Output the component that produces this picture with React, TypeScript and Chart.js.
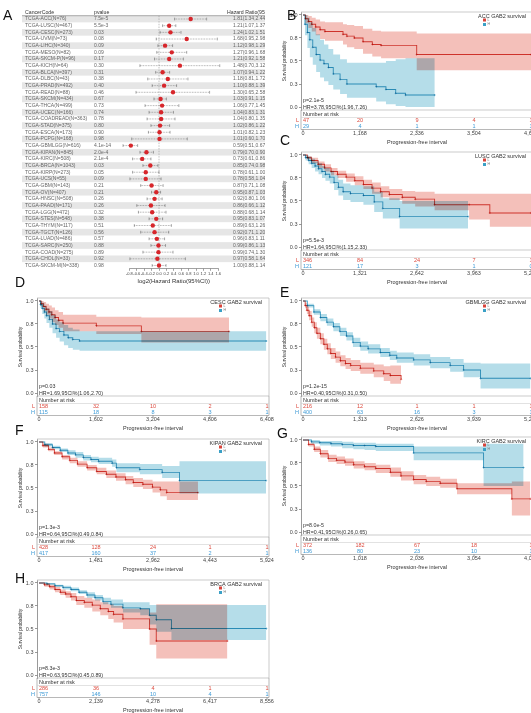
import React, { useEffect, useRef } from 'react';
import { Chart, registerables } from 'chart.js';
Chart.register(...registerables);

const FONT = '"Liberation Sans", Arial, sans-serif';
Chart.defaults.font.family = FONT;

// ---------------- Panel A (forest) data ----------------
const CANCER_CODES = ['ACC','LUSC','CESC','UVM','LIHC','MESO','SKCM-P','KICH','BLCA','DLBC','PRAD','READ','SKCM','THCA','UCEC','COADREAD','STAD','ESCA','PCPG','GBMLGG','KIPAN','KIRC','BRCA','KIRP','UCS','GBM','OV','HNSC','PAAD','LGG','STES','THYM','TGCT','LUAD','SARC','COAD','CHOL','SKCM-M'];
const CANCER_N = [76,467,273,73,340,82,96,64,397,43,492,88,434,499,166,363,375,173,168,616,845,508,1043,273,55,143,407,508,171,472,548,117,126,486,250,275,33,338];
const P_VALUES = ['7.5e-5','5.5e-3','0.03','0.08','0.09','0.09','0.17','0.30','0.31','0.38','0.40','0.46','0.67','0.73','0.74','0.78','0.80','0.90','0.98','4.1e-14','2.0e-4','2.1e-4','0.03','0.05','0.09','0.21','0.21','0.26','0.26','0.32','0.38','0.51','0.56','0.57','0.88','0.89','0.92','0.98'];
const HR = [1.81,1.21,1.24,1.68,1.12,1.27,1.21,1.48,1.07,1.18,1.10,1.30,1.03,1.06,1.04,1.04,1.02,1.01,1.01,0.59,0.79,0.73,0.85,0.78,0.78,0.87,0.95,0.92,0.86,0.88,0.95,0.89,0.92,0.96,0.99,0.99,0.97,1.00];
const HR_LOW = [1.34,1.07,1.02,0.95,0.98,0.96,0.92,0.70,0.94,0.81,0.88,0.65,0.91,0.77,0.83,0.80,0.86,0.82,0.60,0.51,0.70,0.61,0.74,0.61,0.58,0.71,0.87,0.80,0.66,0.68,0.83,0.63,0.71,0.83,0.86,0.74,0.58,0.88];
const HR_HIGH = [2.44,1.37,1.51,2.98,1.29,1.68,1.58,3.12,1.22,1.72,1.39,2.58,1.15,1.45,1.31,1.35,1.22,1.23,1.70,0.67,0.90,0.86,0.98,1.00,1.04,1.08,1.03,1.06,1.12,1.14,1.07,1.26,1.20,1.11,1.13,1.30,1.64,1.14];
const FOREST_TICKS = [-0.8,-0.6,-0.4,-0.2,0,0.2,0.4,0.6,0.8,1.0,1.2,1.4,1.6];

// ---------------- KM panels data ----------------
// B: ACC
const ACC_TICKS = [0,1168,2336,3504,4672];
const ACC_RISK_L = [47,20,9,4,1];
const ACC_RISK_H = [29,4,1,1,1];
const ACC_L_T = [0,50,110,180,260,350,450,820,900,1050,1230,1420,1600,2330,4672];
const ACC_L_S = [1.0,0.96,0.93,0.9,0.87,0.84,0.82,0.79,0.77,0.75,0.71,0.68,0.67,0.57,0.57];
const ACC_L_HI = [1.0,1.0,0.99,0.97,0.95,0.93,0.92,0.9,0.89,0.88,0.85,0.83,0.82,0.8,0.8];
const ACC_L_LO = [1.0,0.91,0.86,0.82,0.78,0.74,0.72,0.68,0.65,0.63,0.58,0.55,0.53,0.4,0.4];
const ACC_H_T = [0,40,90,140,200,270,350,430,520,620,760,900,1500,1700,1900,2100,2700];
const ACC_H_S = [1.0,0.9,0.81,0.73,0.65,0.57,0.51,0.47,0.43,0.36,0.3,0.25,0.22,0.19,0.15,0.13,0.13];
const ACC_H_HI = [1.0,1.0,0.97,0.92,0.86,0.79,0.73,0.68,0.63,0.57,0.52,0.48,0.48,0.5,0.52,0.53,0.53];
const ACC_H_LO = [1.0,0.78,0.64,0.54,0.46,0.38,0.32,0.28,0.24,0.19,0.14,0.1,0.06,0.03,0.01,0,0];

// C: LUSC
const LUSC_TICKS = [0,1321,2642,3963,5284];
const LUSC_RISK_L = [346,84,24,7,1];
const LUSC_RISK_H = [121,17,3,1,0];
const LUSC_L_T = [0,100,200,350,500,650,800,1000,1200,1400,1600,1800,2000,2300,2600,3050,3850,4330,5284];
const LUSC_L_S = [1.0,0.97,0.94,0.9,0.86,0.82,0.79,0.76,0.72,0.68,0.64,0.6,0.57,0.54,0.52,0.46,0.46,0.37,0.37];
const LUSC_L_HI = [1.0,0.99,0.97,0.93,0.9,0.86,0.83,0.8,0.77,0.73,0.7,0.66,0.63,0.61,0.6,0.58,0.58,0.58,0.58];
const LUSC_L_LO = [1.0,0.95,0.91,0.86,0.82,0.78,0.75,0.71,0.67,0.63,0.58,0.54,0.51,0.47,0.44,0.4,0.3,0.22,0.22];
const LUSC_H_T = [0,60,130,200,280,360,440,520,620,720,820,930,1100,1400,1650,1850,2240,3826];
const LUSC_H_S = [1.0,0.97,0.94,0.91,0.88,0.85,0.82,0.79,0.76,0.7,0.65,0.6,0.58,0.56,0.49,0.42,0.33,0.33];
const LUSC_H_HI = [1.0,1.0,0.98,0.96,0.93,0.91,0.88,0.86,0.83,0.78,0.73,0.69,0.67,0.66,0.6,0.53,0.5,0.5];
const LUSC_H_LO = [1.0,0.94,0.9,0.86,0.82,0.79,0.75,0.72,0.69,0.62,0.56,0.51,0.49,0.46,0.38,0.31,0.2,0.2];

// D: CESC
const CESC_TICKS = [0,1602,3204,4806,6408];
const CESC_RISK_L = [158,32,10,2,1];
const CESC_RISK_H = [115,18,8,3,1];
const CESC_L_T = [0,60,130,200,280,360,450,550,675,1611,2877,5340];
const CESC_L_S = [1.0,0.97,0.94,0.91,0.88,0.85,0.82,0.79,0.76,0.73,0.67,0.67];
const CESC_L_HI = [1.0,1.0,0.99,0.97,0.95,0.93,0.9,0.88,0.85,0.83,0.82,0.82];
const CESC_L_LO = [1.0,0.94,0.89,0.85,0.81,0.77,0.74,0.71,0.67,0.64,0.55,0.55];
const CESC_H_T = [0,40,90,150,210,290,380,480,580,700,820,950,1140,6390];
const CESC_H_S = [1.0,0.96,0.92,0.88,0.84,0.8,0.75,0.7,0.67,0.63,0.6,0.58,0.565,0.565];
const CESC_H_HI = [1.0,1.0,0.98,0.95,0.92,0.89,0.85,0.8,0.77,0.74,0.71,0.69,0.67,0.67];
const CESC_H_LO = [1.0,0.92,0.86,0.81,0.76,0.71,0.65,0.6,0.56,0.52,0.49,0.47,0.46,0.46];

// E: GBMLGG
const GBMLGG_TICKS = [0,1313,2626,3939,5252];
const GBMLGG_RISK_L = [216,12,1,1,1];
const GBMLGG_RISK_H = [400,63,16,3,1];
const GBMLGG_L_T = [0,50,90,140,200,260,320,400,480,560,640,750,860,980,1100,1320,1630,1860,2010,2260];
const GBMLGG_L_S = [1.0,0.95,0.9,0.84,0.77,0.71,0.65,0.59,0.53,0.48,0.43,0.39,0.35,0.32,0.3,0.27,0.24,0.21,0.19,0.15];
const GBMLGG_L_HI = [1.0,0.98,0.94,0.89,0.82,0.77,0.71,0.65,0.59,0.54,0.49,0.45,0.41,0.38,0.36,0.33,0.31,0.29,0.3,0.36];
const GBMLGG_L_LO = [1.0,0.92,0.86,0.79,0.72,0.65,0.59,0.53,0.47,0.42,0.37,0.33,0.29,0.26,0.24,0.21,0.17,0.13,0.1,0.05];
const GBMLGG_H_T = [0,100,250,400,550,700,850,1000,1150,1320,1500,1780,2000,2160,2550,2930,3390,3700,4090,5240];
const GBMLGG_H_S = [1.0,0.95,0.88,0.82,0.77,0.72,0.67,0.62,0.55,0.51,0.48,0.44,0.41,0.38,0.36,0.33,0.3,0.25,0.16,0.16];
const GBMLGG_H_HI = [1.0,0.97,0.91,0.86,0.81,0.76,0.71,0.66,0.6,0.56,0.53,0.49,0.46,0.44,0.42,0.39,0.37,0.33,0.32,0.32];
const GBMLGG_H_LO = [1.0,0.93,0.85,0.78,0.73,0.67,0.62,0.57,0.5,0.46,0.43,0.39,0.36,0.33,0.3,0.27,0.23,0.17,0.05,0.05];

// F: KIPAN
const KIPAN_TICKS = [0,1481,2962,4443,5924];
const KIPAN_RISK_L = [428,128,24,1,1];
const KIPAN_RISK_H = [417,160,37,2,1];
const KIPAN_L_T = [0,100,250,400,600,800,1000,1250,1500,1750,2000,2250,2450,2700,2950,3150,3320,4130];
const KIPAN_L_S = [1.0,0.96,0.92,0.88,0.84,0.8,0.76,0.72,0.68,0.65,0.62,0.59,0.56,0.54,0.51,0.48,0.45,0.45];
const KIPAN_L_HI = [1.0,0.98,0.94,0.9,0.86,0.83,0.79,0.75,0.72,0.69,0.66,0.63,0.61,0.59,0.57,0.57,0.57,0.57];
const KIPAN_L_LO = [1.0,0.94,0.9,0.86,0.81,0.77,0.73,0.69,0.65,0.61,0.58,0.54,0.51,0.49,0.45,0.41,0.37,0.37];
const KIPAN_H_T = [0,150,350,550,750,950,1150,1350,1550,1900,2010,2620,3200,3650,5900];
const KIPAN_H_S = [1.0,0.97,0.94,0.91,0.88,0.86,0.83,0.81,0.79,0.77,0.72,0.7,0.67,0.58,0.58];
const KIPAN_H_HI = [1.0,0.99,0.96,0.93,0.91,0.89,0.86,0.84,0.83,0.81,0.77,0.76,0.74,0.79,0.79];
const KIPAN_H_LO = [1.0,0.95,0.92,0.89,0.86,0.83,0.8,0.78,0.76,0.73,0.67,0.65,0.61,0.44,0.44];

// G: KIRC
const KIRC_TICKS = [0,1018,2036,3054,4072];
const KIRC_RISK_L = [372,182,67,18,1];
const KIRC_RISK_H = [136,80,23,10,1];
const KIRC_L_T = [0,100,200,310,450,600,750,905,1100,1300,1560,1750,1976,2200,2450,2750,3730,4060];
const KIRC_L_S = [1.0,0.95,0.9,0.85,0.8,0.78,0.76,0.73,0.71,0.69,0.65,0.61,0.57,0.55,0.53,0.47,0.36,0.36];
const KIRC_L_HI = [1.0,0.97,0.93,0.89,0.84,0.82,0.8,0.77,0.75,0.73,0.7,0.66,0.62,0.6,0.58,0.53,0.55,0.55];
const KIRC_L_LO = [1.0,0.93,0.87,0.81,0.76,0.74,0.72,0.69,0.67,0.64,0.6,0.56,0.52,0.5,0.48,0.41,0.18,0.18];
const KIRC_H_T = [0,150,300,500,700,900,1100,1300,1976,3225,3940];
const KIRC_H_S = [1.0,0.98,0.97,0.96,0.95,0.94,0.94,0.93,0.86,0.7,0.7];
const KIRC_H_HI = [1.0,1.0,0.99,0.99,0.98,0.97,0.97,0.96,0.93,0.96,0.96];
const KIRC_H_LO = [1.0,0.96,0.94,0.93,0.91,0.9,0.89,0.88,0.78,0.5,0.5];

// H: BRCA
const BRCA_TICKS = [0,2139,4278,6417,8556];
const BRCA_RISK_L = [286,36,4,1,1];
const BRCA_RISK_H = [757,146,10,4,1];
const BRCA_L_T = [0,200,400,600,800,1000,1200,1400,1700,2000,2300,2600,2800,3150,4150,4400,7070];
const BRCA_L_S = [1.0,0.98,0.96,0.93,0.9,0.88,0.85,0.81,0.79,0.76,0.72,0.69,0.66,0.61,0.5,0.37,0.37];
const BRCA_L_HI = [1.0,1.0,0.98,0.96,0.93,0.91,0.89,0.86,0.84,0.82,0.79,0.77,0.75,0.72,0.68,0.77,0.77];
const BRCA_L_LO = [1.0,0.96,0.93,0.9,0.87,0.84,0.81,0.76,0.73,0.69,0.65,0.61,0.57,0.5,0.33,0.18,0.18];
const BRCA_H_T = [0,300,600,900,1200,1500,1800,2100,2400,2700,3150,3800,4150,4400,4970,8530];
const BRCA_H_S = [1.0,0.99,0.97,0.95,0.93,0.9,0.87,0.84,0.8,0.77,0.73,0.72,0.65,0.6,0.505,0.505];
const BRCA_H_HI = [1.0,1.0,0.98,0.97,0.95,0.92,0.9,0.87,0.84,0.82,0.79,0.79,0.76,0.76,0.76,0.76];
const BRCA_H_LO = [1.0,0.98,0.96,0.93,0.91,0.88,0.84,0.81,0.77,0.73,0.68,0.65,0.55,0.47,0.38,0.38];

const Y_TICKS = [0, 0.25, 0.5, 0.75, 1];

const RED = '#d8433a';
const BLUE = '#3aa0c6';
const RED_BAND = '#f4c0ba';
const BLUE_BAND = '#b5dde9';
const RED_TXT = '#dc4a3e';
const BLUE_TXT = '#3d9ad6';

const PANELS = [
  { name: 'ACC', col: 1, y1: 15, ticks: ACC_TICKS, p: 'p=2.1e-5', hr: 'HR=3.78,95CI%(1.96,7.26)', riskL: ACC_RISK_L, riskH: ACC_RISK_H,
    L: { t: ACC_L_T, s: ACC_L_S, hi: ACC_L_HI, lo: ACC_L_LO }, H: { t: ACC_H_T, s: ACC_H_S, hi: ACC_H_HI, lo: ACC_H_LO } },
  { name: 'LUSC', col: 1, y1: 155, ticks: LUSC_TICKS, p: 'p=5.5e-3', hr: 'HR=1.64,95CI%(1.15,2.33)', riskL: LUSC_RISK_L, riskH: LUSC_RISK_H,
    L: { t: LUSC_L_T, s: LUSC_L_S, hi: LUSC_L_HI, lo: LUSC_L_LO }, H: { t: LUSC_H_T, s: LUSC_H_S, hi: LUSC_H_HI, lo: LUSC_H_LO } },
  { name: 'CESC', col: 0, y1: 301, ticks: CESC_TICKS, p: 'p=0.03', hr: 'HR=1.69,95CI%(1.06,2.70)', riskL: CESC_RISK_L, riskH: CESC_RISK_H,
    L: { t: CESC_L_T, s: CESC_L_S, hi: CESC_L_HI, lo: CESC_L_LO }, H: { t: CESC_H_T, s: CESC_H_S, hi: CESC_H_HI, lo: CESC_H_LO } },
  { name: 'GBMLGG', col: 1, y1: 301, ticks: GBMLGG_TICKS, p: 'p=1.2e-15', hr: 'HR=0.40,95CI%(0.31,0.50)', riskL: GBMLGG_RISK_L, riskH: GBMLGG_RISK_H,
    L: { t: GBMLGG_L_T, s: GBMLGG_L_S, hi: GBMLGG_L_HI, lo: GBMLGG_L_LO }, H: { t: GBMLGG_H_T, s: GBMLGG_H_S, hi: GBMLGG_H_HI, lo: GBMLGG_H_LO } },
  { name: 'KIPAN', col: 0, y1: 442, ticks: KIPAN_TICKS, p: 'p=1.3e-3', hr: 'HR=0.64,95CI%(0.49,0.84)', riskL: KIPAN_RISK_L, riskH: KIPAN_RISK_H,
    L: { t: KIPAN_L_T, s: KIPAN_L_S, hi: KIPAN_L_HI, lo: KIPAN_L_LO }, H: { t: KIPAN_H_T, s: KIPAN_H_S, hi: KIPAN_H_HI, lo: KIPAN_H_LO } },
  { name: 'KIRC', col: 1, y1: 440, ticks: KIRC_TICKS, p: 'p=8.0e-5', hr: 'HR=0.41,95CI%(0.26,0.65)', riskL: KIRC_RISK_L, riskH: KIRC_RISK_H,
    L: { t: KIRC_L_T, s: KIRC_L_S, hi: KIRC_L_HI, lo: KIRC_L_LO }, H: { t: KIRC_H_T, s: KIRC_H_S, hi: KIRC_H_HI, lo: KIRC_H_LO } },
  { name: 'BRCA', col: 0, y1: 583, ticks: BRCA_TICKS, p: 'p=8.3e-3', hr: 'HR=0.63,95CI%(0.45,0.89)', riskL: BRCA_RISK_L, riskH: BRCA_RISK_H,
    L: { t: BRCA_L_T, s: BRCA_L_S, hi: BRCA_L_HI, lo: BRCA_L_LO }, H: { t: BRCA_H_T, s: BRCA_H_S, hi: BRCA_H_HI, lo: BRCA_H_LO } },
];

const LETTERS = [
  { t: 'A', x: 3, y: 8 }, { t: 'B', x: 287, y: 8 }, { t: 'C', x: 280, y: 133 },
  { t: 'D', x: 15, y: 275 }, { t: 'E', x: 280, y: 285 }, { t: 'F', x: 15, y: 423 },
  { t: 'G', x: 277, y: 426 }, { t: 'H', x: 15, y: 571 },
];

const f = (s: number) => `${s}px ${FONT}`;

const forestPlugin = {
  id: 'forestTable',
  beforeDatasetsDraw(chart: any) {
    const { ctx, chartArea: a, scales: { x, y } } = chart;
    const n = CANCER_CODES.length;
    const pitch = Math.abs(y.getPixelForValue(2) - y.getPixelForValue(1));
    ctx.save();
    for (let i = 0; i < n; i++) {
      const yc = y.getPixelForValue(i + 1);
      if (i % 2 === 0) {
        ctx.fillStyle = '#e6e6e6';
        ctx.fillRect(22, yc - pitch / 2, 243, pitch);
      }
    }
    ctx.textBaseline = 'middle';
    ctx.textAlign = 'left';
    ctx.font = f(5.2);
    ctx.fillStyle = '#333';
    const hy = a.top - 3;
    ctx.fillText('CancerCode', 25, hy);
    ctx.fillText('pvalue', 94, hy);
    ctx.fillText('Hazard Ratio(95%CI)', 227, hy);
    ctx.strokeStyle = '#777';
    ctx.lineWidth = 0.6;
    ctx.beginPath();
    ctx.moveTo(22, a.top);
    ctx.lineTo(265, a.top);
    ctx.stroke();
    ctx.font = f(5);
    ctx.fillStyle = '#666';
    for (let i = 0; i < n; i++) {
      const yc = y.getPixelForValue(i + 1);
      ctx.fillText(`TCGA-${CANCER_CODES[i]}(N=${CANCER_N[i]})`, 25, yc);
      ctx.fillText(P_VALUES[i], 94, yc);
      ctx.fillText(`${HR[i].toFixed(2)}(${HR_LOW[i].toFixed(2)},${HR_HIGH[i].toFixed(2)})`, 233, yc);
    }
    const x0 = x.getPixelForValue(0);
    ctx.setLineDash([1.5, 1.2]);
    ctx.strokeStyle = '#999';
    ctx.lineWidth = 0.6;
    ctx.beginPath();
    ctx.moveTo(x0, a.top);
    ctx.lineTo(x0, a.bottom);
    ctx.stroke();
    for (let i = 0; i < n; i++) {
      const yc = y.getPixelForValue(i + 1);
      const xl = x.getPixelForValue(Math.log2(HR_LOW[i]));
      const xh = x.getPixelForValue(Math.log2(HR_HIGH[i]));
      ctx.setLineDash([0.8, 0.8]);
      ctx.strokeStyle = '#555';
      ctx.lineWidth = 0.5;
      ctx.beginPath();
      ctx.moveTo(xl, yc);
      ctx.lineTo(xh, yc);
      ctx.stroke();
      ctx.setLineDash([]);
      ctx.beginPath();
      ctx.moveTo(xl, yc - 1.4); ctx.lineTo(xl, yc + 1.4);
      ctx.moveTo(xh, yc - 1.4); ctx.lineTo(xh, yc + 1.4);
      ctx.stroke();
    }
    ctx.restore();
  },
};

function ForestPanel() {
  const ref = useRef<HTMLCanvasElement>(null);
  useEffect(() => {
    const rows = CANCER_CODES.length;
    const data = HR.map((h, i) => ({ x: Math.log2(h), y: i + 1 }));
    const chart = new Chart(ref.current as HTMLCanvasElement, {
      type: 'scatter',
      data: { datasets: [{ data, pointRadius: 2.2, pointBackgroundColor: '#d7262b', pointBorderWidth: 0, clip: false } as any] },
      options: {
        animation: false, responsive: false, events: [], devicePixelRatio: 1,
        layout: { padding: { left: 129.4, right: 46.8, top: 15.7, bottom: 0 } },
        plugins: { legend: { display: false }, tooltip: { enabled: false } },
        scales: {
          x: {
            type: 'linear', min: -0.8, max: 1.6,
            afterBuildTicks: (s: any) => { s.ticks = FOREST_TICKS.map((v) => ({ value: v })); },
            afterFit: (s: any) => { s.height = 17.2; s.paddingLeft = 0; s.paddingRight = 0; },
            grid: { drawOnChartArea: false, drawTicks: true, tickLength: 2, color: '#444', lineWidth: 0.5 },
            border: { display: true, color: '#444', width: 0.5 },
            ticks: { font: { family: FONT, size: 4 }, color: '#444', padding: 0.5, maxRotation: 0, autoSkip: false, callback: (v: any) => Number(v).toFixed(1) },
            title: { display: true, text: 'log2(Hazard Ratio(95%CI))', font: { family: FONT, size: 6 }, color: '#333', padding: { top: 0, bottom: 1 } },
          },
          y: { type: 'linear', display: false, reverse: true, min: 0.5, max: rows + 0.5 },
        },
      } as any,
      plugins: [forestPlugin],
    });
    return () => chart.destroy();
  }, []);
  return <canvas ref={ref} width={265} height={286} style={{ position: 'absolute', left: 0, top: 0, width: 265, height: 286 }} />;
}

function KMPanel({ cfg }: { cfg: any }) {
  const ref = useRef<HTMLCanvasElement>(null);
  useEffect(() => {
    const ticks: number[] = cfg.ticks;
    const tmax = ticks[ticks.length - 1];
    const pts = (t: number[], v: number[]) => t.map((x, i) => ({ x, y: v[i] }));
    const lineDs = (g: any, color: string) => ({
      type: 'line', data: pts(g.t, g.s), borderColor: color, borderWidth: 0.9, stepped: 'before', fill: false,
      pointStyle: 'cross', pointRadius: g.t.map((_: number, i: number) => (i === 0 ? 0 : 1.1)),
      pointBorderWidth: 0.5, pointBorderColor: color, pointBackgroundColor: color,
    });
    const bandDs = (g: any, color: string) => [
      { type: 'line', data: pts(g.t, g.hi), borderWidth: 0, borderColor: 'rgba(0,0,0,0)', pointRadius: 0, stepped: 'before', fill: false, backgroundColor: color },
      { type: 'line', data: pts(g.t, g.lo), borderWidth: 0, borderColor: 'rgba(0,0,0,0)', pointRadius: 0, stepped: 'before', fill: '-1', backgroundColor: color },
    ];
    const plugin = {
      id: 'kmExtras',
      beforeDraw(chart: any) {
        chart.ctx.save();
        chart.ctx.globalCompositeOperation = 'multiply';
      },
      afterDatasetsDraw(chart: any) {
        chart.ctx.restore();
      },
      afterDraw(chart: any) {
        const { ctx, chartArea: a, scales } = chart;
        const xs = scales.x, ys = scales.y;
        const y0 = ys.getPixelForValue(0), y1 = ys.getPixelForValue(1);
        ctx.save();
        ctx.lineWidth = 0.6;
        ctx.strokeStyle = '#a8a8a8';
        ctx.beginPath();
        ctx.moveTo(a.left, a.top); ctx.lineTo(a.right, a.top); ctx.lineTo(a.right, a.bottom); ctx.lineTo(a.left, a.bottom);
        ctx.stroke();
        const rBot = y0 + 22.5;
        ctx.strokeStyle = '#888';
        ctx.beginPath();
        ctx.moveTo(a.left, a.bottom); ctx.lineTo(a.left, rBot); ctx.lineTo(a.right, rBot); ctx.lineTo(a.right, a.bottom);
        ctx.stroke();
        ctx.strokeStyle = '#cfcfcf';
        ctx.beginPath(); ctx.moveTo(a.left, y0 + 10.5); ctx.lineTo(a.right, y0 + 10.5); ctx.stroke();
        ctx.strokeStyle = '#555';
        ticks.forEach((t) => {
          const px = xs.getPixelForValue(t);
          ctx.beginPath(); ctx.moveTo(px, rBot); ctx.lineTo(px, rBot + 1.8); ctx.stroke();
        });
        ctx.textBaseline = 'middle';
        ctx.textAlign = 'left';
        ctx.fillStyle = '#333';
        ctx.font = f(5.3);
        ctx.fillText(cfg.p, a.left + 2, y0 - 6);
        ctx.fillText(cfg.hr, a.left + 2, y0 + 0.5);
        ctx.font = f(5.5);
        ctx.fillText('Number at risk', a.left + 2, y0 + 7.5);
        const rows = [[cfg.riskL, RED_TXT, y0 + 13.5], [cfg.riskH, BLUE_TXT, y0 + 19]];
        rows.forEach(([vals, col, yy]: any) => {
          ctx.fillStyle = col;
          vals.forEach((n: number, i: number) => {
            const px = xs.getPixelForValue(ticks[i]);
            ctx.textAlign = i === 0 ? 'left' : 'center';
            ctx.fillText(String(n), px, yy);
          });
        });
        ctx.textAlign = 'right';
        ctx.fillStyle = RED_TXT; ctx.fillText('L', a.left - 2, y0 + 13.5);
        ctx.fillStyle = BLUE_TXT; ctx.fillText('H', a.left - 2, y0 + 19);
        // legend
        ctx.fillStyle = '#333';
        ctx.font = f(5.5);
        ctx.fillText(`${cfg.name} GAB2 survival`, a.right - 7, y1 + 1);
        ctx.fillStyle = RED; ctx.fillRect(a.right - 50, y1 + 3.5, 3, 3);
        ctx.fillStyle = BLUE; ctx.fillRect(a.right - 50, y1 + 8, 3, 3);
        ctx.font = f(3.5);
        ctx.fillStyle = '#777';
        ctx.textAlign = 'left';
        ctx.fillText('L', a.right - 45.5, y1 + 5);
        ctx.fillText('H', a.right - 45.5, y1 + 9.5);
        ctx.restore();
      },
    };
    const chart = new Chart(ref.current as HTMLCanvasElement, {
      type: 'line',
      data: {
        datasets: [
          lineDs(cfg.L, RED), lineDs(cfg.H, BLUE),
          ...bandDs(cfg.L, RED_BAND), ...bandDs(cfg.H, BLUE_BAND),
        ] as any,
      },
      options: {
        animation: false, responsive: false, events: [], devicePixelRatio: 1,
        layout: { padding: { left: 14, top: 5, right: 11, bottom: 0 } },
        plugins: { legend: { display: false }, tooltip: { enabled: false } },
        scales: {
          x: {
            type: 'linear', min: -tmax * 2 / 228, max: tmax * (1 + 2 / 228),
            afterBuildTicks: (s: any) => { s.ticks = ticks.map((v) => ({ value: v })); },
            afterFit: (s: any) => { s.height = 37; s.paddingLeft = 0; s.paddingRight = 0; },
            grid: { display: false, drawTicks: false },
            border: { display: false },
            ticks: { font: { family: FONT, size: 5.5 }, color: '#444', padding: 19.7, maxRotation: 0, autoSkip: false, callback: (v: any) => Number(v).toLocaleString('en-US') },
            title: { display: true, text: 'Progression-free interval', font: { family: FONT, size: 5.5 }, color: '#333', padding: { top: 0, bottom: 1.7 } },
          },
          y: {
            type: 'linear', min: -3 / 92, max: 1 + 3 / 92,
            afterBuildTicks: (s: any) => { s.ticks = Y_TICKS.map((v) => ({ value: v })); },
            afterFit: (s: any) => { s.width = 23; s.paddingTop = 0; s.paddingBottom = 0; },
            grid: { drawOnChartArea: false, drawTicks: true, tickLength: 2, color: '#555', lineWidth: 0.6 },
            border: { display: true, color: '#555', width: 0.6 },
            ticks: { font: { family: FONT, size: 5.5 }, color: '#444', padding: 1.5, autoSkip: false, callback: (v: any) => Number(v).toFixed(1) },
            title: { display: true, text: 'Survival probability', font: { family: FONT, size: 4.8 }, color: '#333', padding: { top: 4, bottom: 0 } },
          },
        },
      } as any,
      plugins: [plugin],
    });
    return () => chart.destroy();
  }, [cfg]);
  const left = cfg.col === 0 ? 0 : 264;
  const top = cfg.y1 - 8;
  return <canvas ref={ref} width={280} height={140} style={{ position: 'absolute', left, top, width: 280, height: 140 }} />;
}

export default function App() {
  return (
    <div style={{ position: 'fixed', left: 0, top: 0, width: 531, height: 713, overflow: 'hidden', background: '#fff', fontFamily: FONT }}>
      <ForestPanel />
      {PANELS.map((p) => <KMPanel key={p.name} cfg={p} />)}
      {LETTERS.map((l) => (
        <div key={l.t} style={{ position: 'absolute', left: l.x, top: l.y, fontSize: 14, lineHeight: '14px', color: '#111', fontFamily: FONT }}>{l.t}</div>
      ))}
    </div>
  );
}
